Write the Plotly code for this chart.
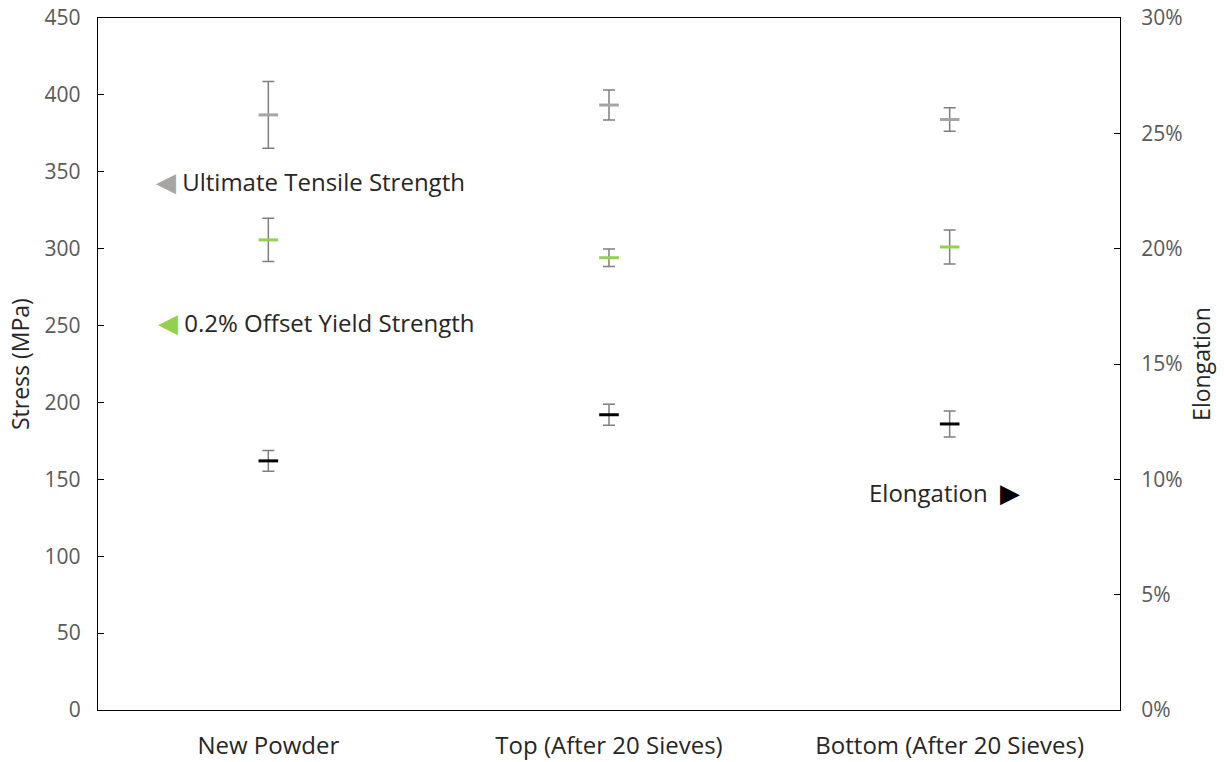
import plotly.graph_objects as go

categories = ["New Powder", "Top (After 20 Sieves)", "Bottom (After 20 Sieves)"]
uts = [387, 393.4, 384]
uts_err = [21.7, 9.8, 7.6]
ys = [305.7, 294.1, 301.1]
ys_err = [14, 5.7, 11]
elong = [0.108, 0.128, 0.124]
elong_err = [0.0045, 0.0045, 0.0056]

left_ticks = [0, 50, 100, 150, 200, 250, 300, 350, 400, 450]
right_ticks = [0, 0.05, 0.10, 0.15, 0.20, 0.25, 0.30]

FONT = "Open Sans"
ERR_COLOR = "#7f7f7f"
TICK_COLOR = "#595959"
TEXT_COLOR = "#262626"

def err(vals):
    return dict(type="data", array=vals, visible=True, color=ERR_COLOR, thickness=1.5, width=6)

fig = go.Figure()
fig.add_trace(go.Scatter(x=categories, y=uts, mode="markers", error_y=err(uts_err),
                         marker=dict(symbol="line-ew", size=14, line=dict(width=3, color="#a5a5a5")),
                         name="Ultimate Tensile Strength", showlegend=False))
fig.add_trace(go.Scatter(x=categories, y=ys, mode="markers", error_y=err(ys_err),
                         marker=dict(symbol="line-ew", size=14, line=dict(width=3, color="#92d050")),
                         name="0.2% Offset Yield Strength", showlegend=False))
fig.add_trace(go.Scatter(x=categories, y=elong, mode="markers", error_y=err(elong_err), yaxis="y2",
                         marker=dict(symbol="line-ew", size=14, line=dict(width=3, color="#000000")),
                         name="Elongation", showlegend=False))

fig.update_layout(
    width=1224, height=762,
    margin=dict(l=98, r=104, t=18, b=52),
    paper_bgcolor="white", plot_bgcolor="white",
    font=dict(family=FONT, size=16, color=TICK_COLOR),
    xaxis=dict(type="category", range=[-0.5, 2.5], showline=True, linecolor="#000", linewidth=1.3,
               mirror=True, ticks="", showgrid=False, tickfont=dict(size=24, color=TEXT_COLOR),
               ticklabelstandoff=14, automargin=False),
    yaxis=dict(range=[0, 450], tickvals=left_ticks, showline=True, linecolor="#000", linewidth=1.3,
               ticks="inside", ticklen=6, tickcolor="#000", showgrid=False, zeroline=False,
               tickfont=dict(size=21, color=TICK_COLOR), ticklabelstandoff=12, automargin=False,
               ticklabeloverflow="allow"),
    yaxis2=dict(range=[0, 0.30], tickvals=right_ticks, tickformat=".0%", overlaying="y", side="right",
                showline=True, linecolor="#000", linewidth=1.3, ticks="inside", ticklen=6, tickcolor="#000",
                showgrid=False, zeroline=False, tickfont=dict(size=21, color=TICK_COLOR),
                ticklabelstandoff=16, automargin=False, ticklabeloverflow="allow",
                title=dict(text="Elongation", font=dict(size=23, color=TEXT_COLOR), standoff=12)),
    annotations=[
        dict(xref="paper", yref="paper", x=-0.0763, y=0.5, xanchor="center", yanchor="middle",
             showarrow=False, textangle=-90, text="Stress (MPa)",
             font=dict(size=23, color=TEXT_COLOR, family=FONT)),
        dict(xref="paper", yref="y", x=0.055, y=344, xanchor="left", yanchor="middle", showarrow=False,
             text="<span style='color:#a5a5a5;font-size:26px'>◀</span> Ultimate Tensile Strength",
             font=dict(size=24, color=TEXT_COLOR, family=FONT)),
        dict(xref="paper", yref="y", x=0.057, y=252.5, xanchor="left", yanchor="middle", showarrow=False,
             text="<span style='color:#92d050;font-size:26px'>◀</span> 0.2% Offset Yield Strength",
             font=dict(size=24, color=TEXT_COLOR, family=FONT)),
        dict(xref="paper", yref="y", x=0.904, y=141.8, xanchor="right", yanchor="middle", showarrow=False,
             text="Elongation  <span style='color:#000;font-size:26px'>▶</span>",
             font=dict(size=24, color=TEXT_COLOR, family=FONT)),
    ],
)

fig.write_html("out.html", config={"displayModeBar": False},
               post_script="document.body.style.margin='0';document.body.style.overflow='hidden';")
